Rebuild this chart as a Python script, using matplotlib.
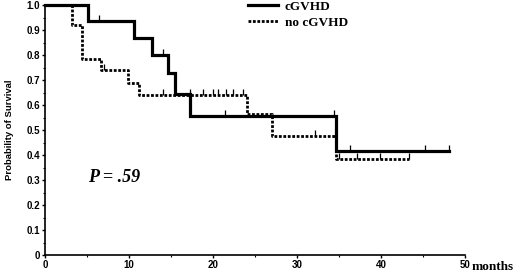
# Kaplan-Meier style survival curves, cGVHD vs no cGVHD
import numpy as np
import matplotlib
matplotlib.use("Agg")
import matplotlib.pyplot as plt

# cGVHD group: step times (months) and survival after each step
cgvhd_times = [0, 5.1, 10.6, 12.7, 14.6, 15.5, 17.3, 34.6, 48.1]
cgvhd_surv = [1.0, 0.9375, 0.87, 0.80, 0.73, 0.645, 0.556, 0.416, 0.416]
cgvhd_censor = [6.4, 14.0, 21.4, 34.4, 36.3, 45.2, 48.1]

# no cGVHD group
no_times = [0, 3.2, 4.4, 6.7, 9.9, 11.2, 24.0, 27.0, 34.6, 43.4]
no_surv = [1.0, 0.92, 0.786, 0.742, 0.69, 0.64, 0.563, 0.476, 0.385, 0.385]
no_censor = [7.0, 14.0, 17.3, 18.8, 20.0, 20.6, 21.6, 22.4, 23.6, 32.1,
             35.0, 37.1, 39.9, 43.4]

x_ticks = [0, 10, 20, 30, 40, 50]
y_ticks = [0, 0.1, 0.2, 0.3, 0.4, 0.5, 0.6, 0.7, 0.8, 0.9, 1.0]
y_labels = ["0", "0.1", "0.2", "0.3", "0.4", "0.5", "0.6", "0.7", "0.8", "0.9", "1.0"]


def surv_at(times, surv, t):
    idx = np.searchsorted(times, t, side="right") - 1
    return np.array(surv)[idx]


def main():
    fig = plt.figure(figsize=(5.2, 2.72), dpi=100)
    ax = fig.add_axes([0.0865, 0.0625, 0.8075, 0.919])

    ax.step(cgvhd_times, cgvhd_surv, where="post", color="black", lw=2.3,
            solid_joinstyle="miter", label="cGVHD", clip_on=False, zorder=3)
    ax.step(no_times, no_surv, where="post", color="black", lw=2.0,
            linestyle=(0, (1, 0.6)), label="no cGVHD", clip_on=False, zorder=2)

    # censor marks
    ax.plot(cgvhd_censor, surv_at(cgvhd_times, cgvhd_surv, cgvhd_censor) + 0.012,
            linestyle="none", marker="|", ms=4, mew=0.9, color="black", clip_on=False)
    ax.plot(no_censor, surv_at(no_times, no_surv, no_censor) + 0.012,
            linestyle="none", marker="|", ms=4, mew=0.9, color="black", clip_on=False)

    ax.set_xlim(0, 50)
    ax.set_ylim(0, 1.0)
    ax.set_xticks(x_ticks)
    ax.set_xticks([5, 15, 25, 35, 45], minor=True)
    ax.set_yticks(y_ticks)
    ax.set_yticklabels(y_labels)
    ax.set_yticks(np.arange(0.05, 1.0, 0.1), minor=True)

    for s in ["top", "right"]:
        ax.spines[s].set_visible(False)
    for s in ["left", "bottom"]:
        ax.spines[s].set_linewidth(1.2)

    ax.tick_params(which="major", direction="out", length=2.5, width=1.0,
                   labelsize=7, pad=1)
    ax.tick_params(which="minor", direction="out", length=1.5, width=0.8)
    for lab in ax.get_xticklabels() + ax.get_yticklabels():
        lab.set_fontfamily("Liberation Sans")
        lab.set_fontweight("bold")

    ax.set_ylabel("Probability of Survival", fontfamily="Liberation Sans",
                  fontweight="bold", fontsize=6.8, labelpad=9)

    fig.text(0.906, 0.008, "months", fontfamily="Liberation Serif",
             fontweight="bold", fontsize=9.5)

    ax.text(5.1, 0.31, "P = .59", fontsize=13, fontfamily="Liberation Serif",
            fontweight="bold", fontstyle="italic", va="center")

    ax.legend(loc="upper left", bbox_to_anchor=(0.455, 1.065), frameon=False,
              handlelength=2.3, handletextpad=0.5, labelspacing=0.3,
              prop={"family": "Liberation Serif", "weight": "bold", "size": 9.5})

    fig.savefig("out.png", dpi=100)


if __name__ == "__main__":
    main()
